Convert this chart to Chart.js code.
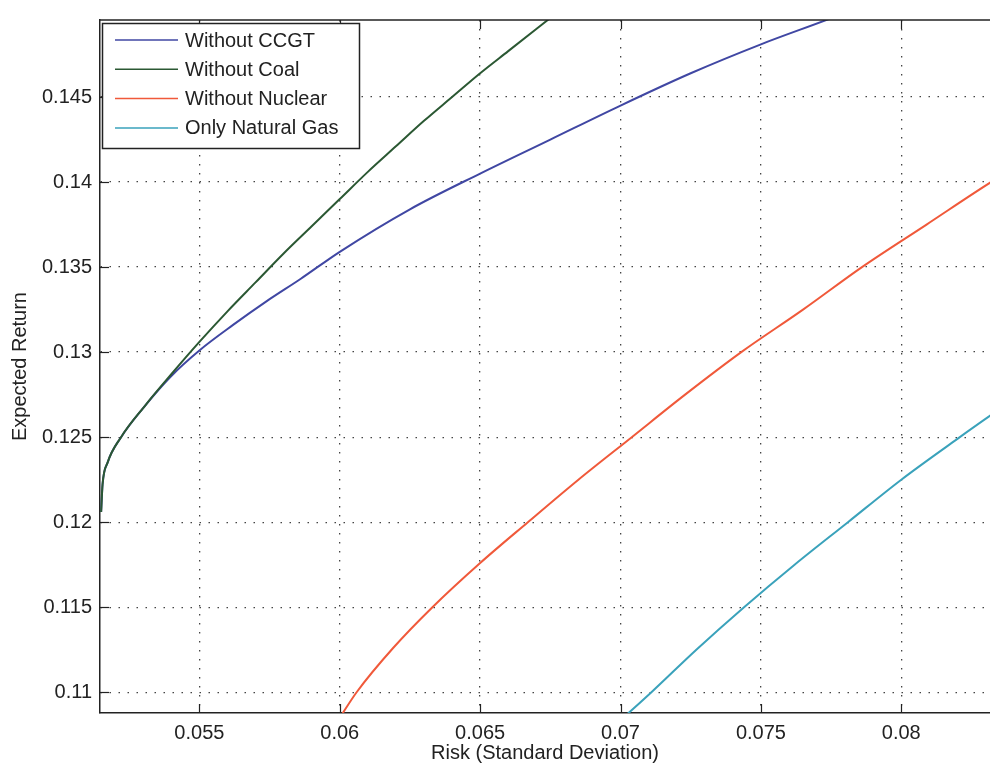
<!DOCTYPE html>
<html>
<head>
<meta charset="utf-8">
<script src="https://cdn.jsdelivr.net/npm/chart.js@4.4.1/dist/chart.umd.min.js"></script>
<style>
  html, body { margin: 0; padding: 0; background: #fff; }
  #wrap { width: 990px; height: 768px; }
</style>
</head>
<body>
<div id="wrap"><canvas id="frontier" width="990" height="768"></canvas></div>
<script>
// Valeurs
const riskNoCCGT   = [0.0515, 0.05155, 0.05173, 0.05221, 0.05304, 0.0540, 0.0550, 0.0562, 0.0574, 0.0586, 0.0600, 0.0625, 0.0650, 0.0675, 0.0700, 0.0725, 0.0750, 0.0776, 0.0782];
const returnNoCCGT = [0.1206, 0.1222, 0.1235, 0.1250, 0.1268, 0.1286, 0.1301, 0.1316, 0.1330, 0.1343, 0.1359, 0.1384, 0.1405, 0.1425, 0.1445, 0.1464, 0.1481, 0.1497, 0.1501];

const riskNoCoal   = [0.0515, 0.05155, 0.05173, 0.05221, 0.05304, 0.0540, 0.0550, 0.0560, 0.0570, 0.0580, 0.0590, 0.0600, 0.0610, 0.0620, 0.0630, 0.0640, 0.0650, 0.0660, 0.0670, 0.0680];
const returnNoCoal = [0.1206, 0.1222, 0.1235, 0.1250, 0.1268, 0.1287, 0.1306, 0.1324, 0.1341, 0.1358, 0.1374, 0.1390, 0.1406, 0.1421, 0.1436, 0.1450, 0.1464, 0.1477, 0.1490, 0.1503];

const riskNoNuclear   = [0.0600, 0.0606, 0.0619, 0.0633, 0.0650, 0.0667, 0.0685, 0.0704, 0.0723, 0.0743, 0.0765, 0.0786, 0.0809, 0.0832, 0.0840];
const returnNoNuclear = [0.1085, 0.1100, 0.1126, 0.1150, 0.1176, 0.1200, 0.1225, 0.1250, 0.1275, 0.1300, 0.1325, 0.1350, 0.1375, 0.1400, 0.1408];

const riskGasOnly   = [0.0701, 0.0711, 0.0727, 0.0744, 0.0762, 0.0781, 0.0800, 0.0820, 0.0832, 0.0840];
const returnGasOnly = [0.1085, 0.1100, 0.1125, 0.1150, 0.1175, 0.1200, 0.1225, 0.1249, 0.1263, 0.1272];

const seriesLabels = ['Without CCGT', 'Without Coal', 'Without Nuclear', 'Only Natural Gas'];
const xTicks = [0.055, 0.06, 0.065, 0.07, 0.075, 0.08];
const yTicks = [0.11, 0.115, 0.12, 0.125, 0.13, 0.135, 0.14, 0.145];

const FONT = "'Liberation Sans', Arial, Helvetica, sans-serif";
const INK = '#222';

function toPoints(xs, ys) {
    return xs.map((x, i) => ({ x: x, y: ys[i] }));
}

function serie(label, xs, ys, color, order) {
    return {
        label: label,
        data: toPoints(xs, ys),
        borderColor: color,
        backgroundColor: color,
        borderWidth: 2,
        showLine: true,
        pointRadius: 0,
        cubicInterpolationMode: 'monotone',
        order: order
    };
}

// Cadre, graduations vers l'intérieur et légende (comme MATLAB)
const matlabBox = {
    id: 'matlabBox',
    afterDraw(chart) {
        const ctx = chart.ctx;
        const a = chart.chartArea;
        const xs = chart.scales.x, ys = chart.scales.y;
        ctx.save();
        ctx.strokeStyle = INK;
        ctx.lineWidth = 1.5;
        ctx.beginPath();
        ctx.moveTo(a.left, a.top);
        ctx.lineTo(a.right, a.top);
        ctx.stroke();
        ctx.lineWidth = 1.2;
        xTicks.forEach(v => {
            const px = Math.round(xs.getPixelForValue(v)) + 0.5;
            ctx.beginPath();
            ctx.moveTo(px, a.bottom); ctx.lineTo(px, a.bottom - 9);
            ctx.moveTo(px, a.top); ctx.lineTo(px, a.top + 9);
            ctx.stroke();
        });
        yTicks.forEach(v => {
            const py = Math.round(ys.getPixelForValue(v)) + 0.5;
            ctx.beginPath();
            ctx.moveTo(a.left, py); ctx.lineTo(a.left + 9, py);
            ctx.stroke();
        });

        // Légende
        const lx = 102, ly = 23, lw = 257, lh = 125;
        ctx.fillStyle = '#fff';
        ctx.fillRect(lx, ly, lw, lh);
        ctx.strokeStyle = INK;
        ctx.lineWidth = 1.5;
        ctx.strokeRect(lx + 0.5, ly + 0.5, lw, lh);
        ctx.font = '20px ' + FONT;
        ctx.textBaseline = 'middle';
        ctx.textAlign = 'left';
        chart.data.datasets.forEach((ds, i) => {
            const y = ly + 17 + i * 29.3;
            ctx.strokeStyle = ds.borderColor;
            ctx.lineWidth = 1.5;
            ctx.beginPath();
            ctx.moveTo(lx + 13, y); ctx.lineTo(lx + 76, y);
            ctx.stroke();
            ctx.fillStyle = INK;
            ctx.fillText(ds.label, lx + 83, y + 1);
        });
        ctx.restore();
    }
};

const fmt = v => String(parseFloat(v.toFixed(4)));

const config = {
    type: 'scatter',
    data: {
        datasets: [
            serie(seriesLabels[0], riskNoCCGT, returnNoCCGT, '#4047a3', 2),
            serie(seriesLabels[1], riskNoCoal, returnNoCoal, '#2b5833', 1),
            serie(seriesLabels[2], riskNoNuclear, returnNoNuclear, '#f0593a', 3),
            serie(seriesLabels[3], riskGasOnly, returnGasOnly, '#3aa2bb', 4)
        ]
    },
    options: {
        responsive: false,
        animation: false,
        layout: { padding: { top: 12, right: 0, left: 0, bottom: 0 } },
        plugins: {
            legend: { display: false },
            tooltip: { enabled: false }
        },
        scales: {
            x: {
                type: 'linear',
                min: 0.05146,
                max: 0.08316,
                afterFit: s => { s.height = 55; },
                afterBuildTicks: s => { s.ticks = xTicks.map(v => ({ value: v })); },
                grid: { color: '#444', lineWidth: 1.3, drawTicks: false },
                border: { display: true, color: INK, width: 1.5, dash: [1.5, 7.5] },
                ticks: { color: INK, font: { family: FONT, size: 20 }, padding: 8, maxRotation: 0, callback: fmt },
                title: { display: true, text: 'Risk (Standard Deviation)', color: INK, font: { family: FONT, size: 20 }, padding: { top: 0, bottom: 3 } }
            },
            y: {
                type: 'linear',
                min: 0.10878,
                max: 0.14953,
                afterFit: s => { s.width = 100; },
                afterBuildTicks: s => { s.ticks = yTicks.map(v => ({ value: v })); },
                grid: { color: '#444', lineWidth: 1.3, drawTicks: false },
                border: { display: true, color: INK, width: 1.5, dash: [1.5, 7.5] },
                ticks: { color: INK, font: { family: FONT, size: 20 }, padding: 8, callback: fmt },
                title: { display: true, text: 'Expected Return', color: INK, font: { family: FONT, size: 20 }, padding: { top: 8, bottom: 0 } }
            }
        }
    },
    plugins: [matlabBox]
};

const frontierChart = new Chart(document.getElementById('frontier'), config);
</script>
</body>
</html>
